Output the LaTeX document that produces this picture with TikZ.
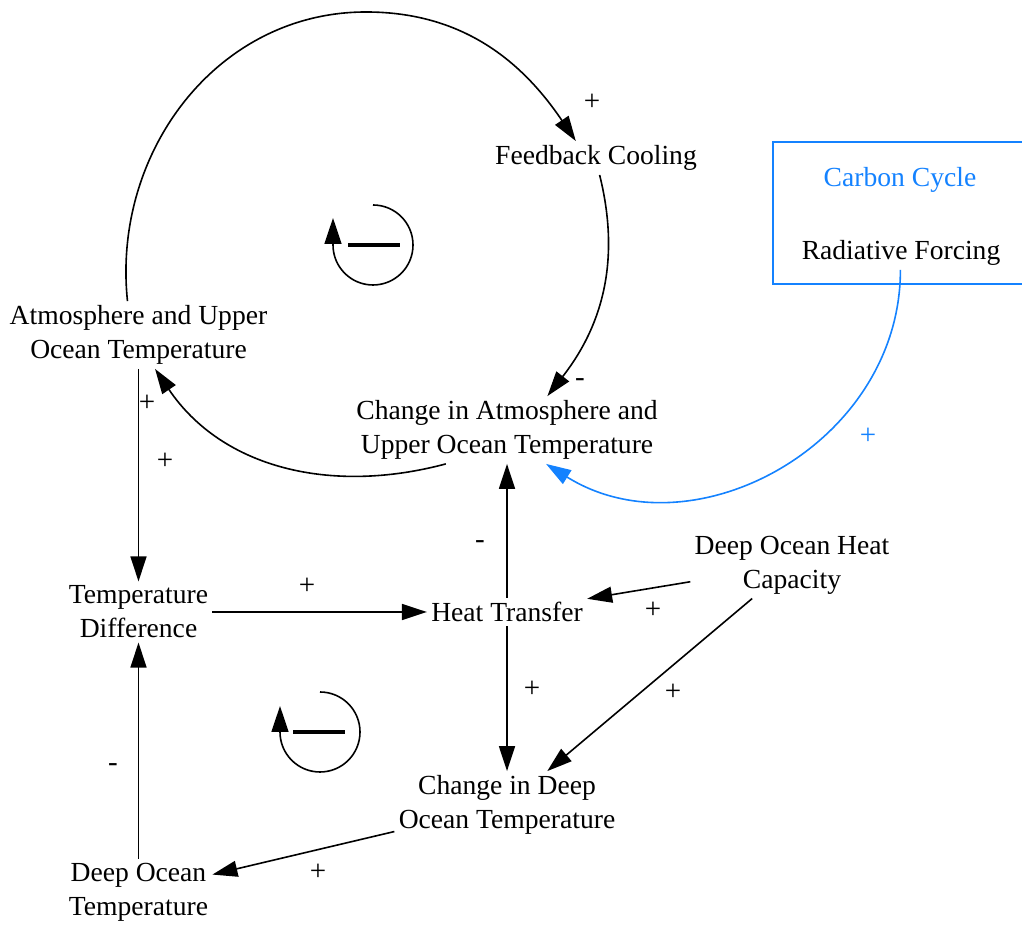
\documentclass[tikz,border=0pt]{standalone}
\usepackage{fontspec}
\setmainfont{Liberation Serif}
\usetikzlibrary{arrows.meta}

\definecolor{ccblue}{RGB}{20,130,255}

\tikzset{
  var/.style={align=center, inner sep=2pt, font=\fontsize{13.8}{17}\selectfont},
  link/.style={draw, line width=0.8pt, -{Triangle[length=12.5pt,width=8pt]}},
  pol/.style={inner sep=0pt, font=\fontsize{14.5}{17}\selectfont},
  loopsym/.style={line width=0.8pt, -{Triangle[length=13pt,width=8.5pt]}},
}

\begin{document}
\begin{tikzpicture}[x=0.5pt,y=0.5pt]

      \useasboundingbox (0,0) rectangle (1022,925);

      % Define nodes
      \node[var]                 (atm)  at (138.5,590) {Atmosphere and Upper\\Ocean Temperature};
      \node[var]                 (fb)   at (596,767) {Feedback Cooling};
      \node[var]                 (datm) at (507,495) {Change in Atmosphere and\\Upper Ocean Temperature};
      \node[var, text=ccblue]    (cc)   at (900,745) {Carbon Cycle};
      \node[var]                 (rf)   at (901,672) {Radiative Forcing};
      \node[var]                 (td)   at (138.5,313) {Temperature\\Difference};
      \node[var]                 (ht)   at (507,313) {Heat Transfer};
      \node[var]                 (dohc) at (792,360) {Deep Ocean Heat\\Capacity};
      \node[var]                 (cdot) at (507,120) {Change in Deep\\Ocean Temperature};
      \node[var]                 (dot)  at (138.5,33)  {Deep Ocean\\Temperature};
      \coordinate                (top)  at (366,913);   % top of the big loop
      \coordinate                (lpA)  at (373,680);
      \coordinate                (lpB)  at (320,193);

      % Carbon cycle view, cut off at the right
      \draw[ccblue, line width=1pt] (1022,783) -| (773,641) -- (1022,641);

      % Connect the nodes
      \draw[link] (atm.108) to[out=96,in=180,looseness=1.02] (top) to[out=0,in=124] (fb.140);
      \draw[link] (fb.-78) to[out=-76,in=52] (datm.40);
      \draw[link] (datm.209) to[out=195,in=-56] (atm.-64);
      \draw[link, ccblue] (rf.-92) to[out=-90,in=-32,looseness=1.1] (datm.-41);
      \draw[link] (atm) -- (td);
      \draw[link] (td) -- (ht);
      \draw[link] (ht) -- (datm);
      \draw[link] (ht) -- (cdot);
      \draw[link] (dohc) -- (ht);
      \draw[link] (dohc) -- (cdot);
      \draw[link] (cdot) -- (dot);
      \draw[link] (dot) -- (td);

      % Polarities
      \node[pol]             (pFb)   at (592,823) {+};
      \node[pol]             (pDatm) at (580,542) {-};
      \node[pol]             (pAtm)  at (147,522) {+};
      \node[pol]             (pTd)   at (165,464) {+};
      \node[pol]             (pHt)   at (480,380) {-};
      \node[pol]             (pTdHt) at (307,339) {+};
      \node[pol]             (pCap)  at (653,315) {+};
      \node[pol]             (pHtD)  at (532,236) {+};
      \node[pol]             (pCapD) at (673,233) {+};
      \node[pol]             (pDot)  at (113,157) {-};
      \node[pol]             (pCd)   at (318,53)  {+};
      \node[pol, text=ccblue] (pRf)  at (868,489) {+};

      % Loop symbols
      \draw[loopsym] ([yshift=20pt]lpA) arc[start angle=90,end angle=-180,radius=20pt] -- ++(0,13.5pt);
      \draw[line width=2pt] ([xshift=-12.5pt]lpA) -- ++(26pt,0);
      \draw[loopsym] ([yshift=20pt]lpB) arc[start angle=90,end angle=-180,radius=20pt] -- ++(0,13pt);
      \draw[line width=2pt] ([xshift=-13.5pt]lpB) -- ++(26pt,0);

\end{tikzpicture}
\end{document}
